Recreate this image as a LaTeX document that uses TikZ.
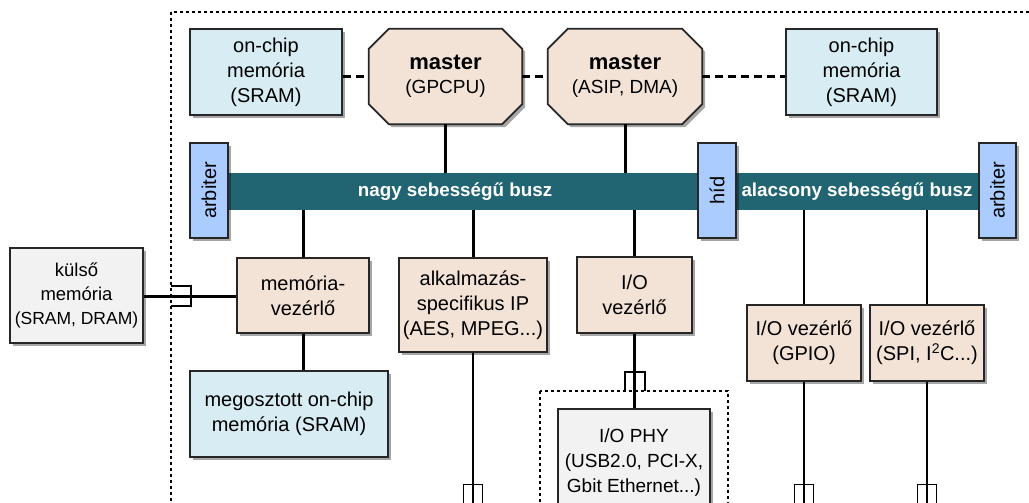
\documentclass[tikz,border=0pt]{standalone}
\usepackage{fontspec}
\setmainfont{Liberation Sans}
\usetikzlibrary{shadows,calc,backgrounds}
\definecolor{peach}{RGB}{243,227,215}
\definecolor{memblue}{RGB}{216,237,243}
\definecolor{arbblue}{RGB}{170,204,255}
\definecolor{busteal}{RGB}{34,101,114}
\definecolor{lgrey}{RGB}{242,242,242}
\tikzset{
  shadowed/.style={drop shadow={shadow xshift=3pt, shadow yshift=-3pt, fill=black, opacity=0.35}},
  boxbase/.style={draw=black!85, line width=1.7pt, align=center, inner sep=0pt,
    font=\fontsize{20}{25}\selectfont, shadowed},
  membox/.style={boxbase, fill=memblue},
  ctrlbox/.style={boxbase, fill=peach},
  greybox/.style={boxbase, fill=lgrey},
  masterbox/.style={align=center, inner sep=0pt, font=\fontsize{19}{24}\selectfont,
    minimum width=153pt, minimum height=95pt},
  octshape/.style={draw=black!85, line width=1.7pt, fill=peach, shadowed},
  arbbox/.style={boxbase, fill=arbblue, minimum width=38pt, minimum height=95pt},
  buslabel/.style={text=white, font=\fontsize{18.8}{22}\selectfont\bfseries, inner sep=0pt},
  thickline/.style={line width=3pt},
  thinline/.style={line width=1.5pt},
  dashline/.style={line width=3pt, dash pattern=on 8pt off 5pt},
  plug/.style={line width=1.5pt},
  boundary/.style={line width=1.6pt, dash pattern=on 3pt off 3pt},
}
\newcommand{\octagon}[1]{%
  \path[octshape] ($(#1.north west)+(20,0)$) -- ($(#1.north east)+(-20,0)$)
    -- ($(#1.north east)+(0,20)$) -- ($(#1.south east)+(0,-20)$)
    -- ($(#1.south east)+(-20,0)$) -- ($(#1.south west)+(20,0)$)
    -- ($(#1.south west)+(0,-20)$) -- ($(#1.north west)+(0,20)$) -- cycle;}
\begin{document}
\begin{tikzpicture}[x=1pt,y=-1pt]
\clip (0,0) rectangle (1029,503);
% outer chip boundary
\draw[boundary] (171,12) rectangle (1045,512);
% I/O PHY region
\draw[line width=1.4pt, dash pattern=on 3pt off 3pt] (540,391) rectangle (728,540);

% top row
\node[membox, minimum width=152pt, minimum height=86pt] (mem1) at (266,72) {on-chip\\memória\\(SRAM)};
\node[masterbox] (m1) at (445.5,76.5) {{\fontsize{22}{26}\selectfont\bfseries master}\\(GPCPU)};
\node[masterbox, minimum width=154pt] (m2) at (625,76.5) {{\fontsize{22}{26}\selectfont\bfseries master}\\(ASIP, DMA)};
\begin{pgfonlayer}{background}
\octagon{m1}
\octagon{m2}
\end{pgfonlayer}
\node[membox, minimum width=151pt, minimum height=86pt] (mem2) at (861.5,72) {on-chip\\memória\\(SRAM)};

\draw[dashline] (mem1.east |- m1.west) -- (m1.west);
\draw[dashline] (m1.east) -- (m2.west);
\draw[dashline] (m2.east) -- (mem2.west |- m2.east);

% bus
\node[fill=busteal, minimum width=751pt, minimum height=37pt, inner sep=0pt] (bus) at (603.5,191.5) {};
\node[buslabel] (hslabel) at (455,192) {nagy sebességű busz};
\node[buslabel] (lslabel) at (857,192) {alacsony sebességű busz};
\node[arbbox] (arb1) at (209,190.5) {\rotatebox{90}{arbiter}};
\node[arbbox] (hid) at (717,190.5) {\rotatebox{90}{híd}};
\node[arbbox, minimum width=37pt] (arb2) at (997.5,190.5) {\rotatebox{90}{arbiter}};

\draw[thickline] (m1.south) -- (m1.south |- bus.north);
\draw[thickline] (m2.south) -- (m2.south |- bus.north);

% middle row
\node[greybox, minimum width=133pt, minimum height=95pt, font=\fontsize{18.5}{24}\selectfont] (ext) at (76.5,295.5) {külső\\memória\\{\fontsize{17.5}{24}\selectfont (SRAM, DRAM)}};
\node[ctrlbox, minimum width=132pt, minimum height=75pt] (memvez) at (303,295.5) {memória-\\vezérlő};
\node[ctrlbox, minimum width=148pt, minimum height=94pt] (alk) at (473,305) {alkalmazás-\\specifikus IP\\(AES, MPEG...)};
\node[ctrlbox, minimum width=115pt, minimum height=76pt] (iovez) at (634.5,295) {I/O\\vezérlő};
\node[ctrlbox, minimum width=114pt, minimum height=76pt] (gpio) at (804,343) {I/O vezérlő\\(GPIO)};
\node[ctrlbox, minimum width=114pt, minimum height=76pt] (spi) at (927,343) {I/O vezérlő\\(SPI, I\textsuperscript{2}C...)};
\node[membox, minimum width=198pt, minimum height=86pt] (shmem) at (289,414) {megosztott on-chip\\memória (SRAM)};
\node[greybox, minimum width=152pt, minimum height=108pt, font=\fontsize{19}{25}\selectfont] (phy) at (634,463) {I/O PHY\\(USB2.0, PCI-X,\\Gbit Ethernet...)};

% free ends at the chip boundary
\coordinate (alkEnd) at (473,515);
\coordinate (gpioEnd) at (804,515);
\coordinate (spiEnd) at (927,515);

% connectors below the bus
\draw[thickline] (memvez.north |- bus.south) -- (memvez.north);
\draw[thickline] (memvez.south) -- (shmem.north -| memvez.south);
\draw[thickline] (alk.north |- bus.south) -- (alk.north);
\draw[thinline] (alk.south) -- (alkEnd);
\draw[thickline] (iovez.north |- bus.south) -- (iovez.north);
\draw[thickline] (iovez.south) -- (phy.north -| iovez.south);
\draw[thinline] (gpio.north |- bus.south) -- (gpio.north);
\draw[thinline] (gpio.south) -- (gpioEnd);
\draw[thinline] (spi.north |- bus.south) -- (spi.north);
\draw[thinline] (spi.south) -- (spiEnd);
\draw[thickline] (ext.east |- 0,296) -- (memvez.west |- 0,296);

% plugs
\draw[plug] (171,286) -- (191,286) -- (191,306) -- (171,306);
\draw[plug] (625,391) -- (625,372) -- (645,372) -- (645,391);
\draw[plug] (463.5,512) -- (463.5,484.5) -- (482.5,484.5) -- (482.5,512);
\draw[plug] (794.5,512) -- (794.5,484.5) -- (813.5,484.5) -- (813.5,512);
\draw[plug] (917.5,512) -- (917.5,484.5) -- (936.5,484.5) -- (936.5,512);
\end{tikzpicture}
\end{document}
